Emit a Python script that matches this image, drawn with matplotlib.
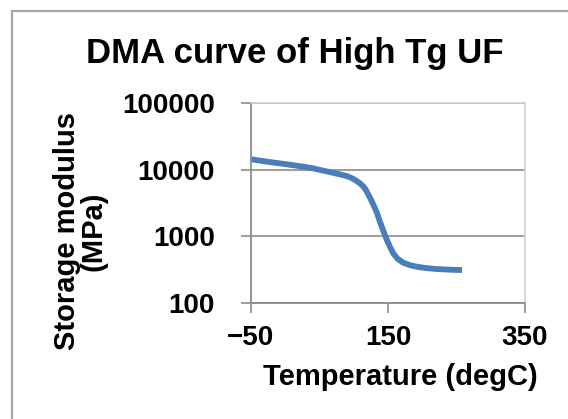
import matplotlib
matplotlib.use("Agg")
import matplotlib.pyplot as plt
from matplotlib.patches import Rectangle

title = "DMA curve of High Tg UF"
xlabel = "Temperature (degC)"
ylabel = "Storage modulus\n(MPa)"

temperature = [-50, -22, 7, 36, 65, 80, 90, 98, 104, 110, 115, 119, 124, 128.5, 133.5, 138.3,
               143, 148, 153, 157.7, 164, 172.3, 182, 192, 205, 221, 240, 258]
modulus = [14300, 13000, 11850, 10700, 9200, 8500, 8000, 7400, 6800, 6150, 5450, 4700, 3750, 3000, 2300, 1650,
           1220, 900, 690, 556, 460, 402, 370, 350, 335, 323, 316, 312]

xticks = [-50, 150, 350]
xticklabels = ["\u221250", "150", "350"]
yticks = [100, 1000, 10000, 100000]
yticklabels = ["100", "1000", "10000", "100000"]

plt.rcParams['font.family'] = ['Liberation Sans', 'DejaVu Sans']
plt.rcParams['font.weight'] = 'bold'

W, H = 568, 419
fig = plt.figure(figsize=(W / 100, H / 100), dpi=100)
fig.patch.set_facecolor('white')

# outer chart frame
fig.add_artist(Rectangle((11.5 / W, -0.1), 1.2, (419 - 11.5) / H + 0.1,
                         transform=fig.transFigure, fill=False,
                         edgecolor='#a6a6a6', linewidth=1.6))

ax = fig.add_axes([251 / W, 116 / H, 274 / W, 200 / H])
ax.plot(temperature, modulus, color='#4a7ebb', linewidth=4.2,
        solid_capstyle='butt', solid_joinstyle='round')
ax.set_yscale('log')
ax.set_xlim(-50, 350)
ax.set_ylim(100, 100000)
ax.set_xticks(xticks)
ax.set_xticklabels(xticklabels)
ax.set_yticks(yticks)
ax.set_yticklabels(yticklabels)
ax.minorticks_off()

ax.yaxis.grid(True, color='#8c8c8c', linewidth=1.2)
ax.set_axisbelow(True)
for s in ['top', 'right']:
    ax.spines[s].set_color('#d0d0d0')
    ax.spines[s].set_linewidth(1.2)
for s in ['left', 'bottom']:
    ax.spines[s].set_color('#8c8c8c')
    ax.spines[s].set_linewidth(1.3)

ax.tick_params(axis='y', direction='out', length=7, width=1.2, color='#8c8c8c',
               labelsize=20, pad=19)
ax.tick_params(axis='x', direction='out', length=7, width=1.2, color='#8c8c8c',
               labelsize=20, pad=9)
for lab in ax.get_xticklabels() + ax.get_yticklabels():
    lab.set_fontweight('bold')

fig.text(295 / W, (H - 53) / H, title, ha='center', va='center',
         fontsize=25, fontweight='bold')
fig.text(400 / W, (H - 377) / H, xlabel, ha='center', va='center',
         fontsize=21, fontweight='bold')
fig.text(80 / W, (H - 231) / H, ylabel, ha='center', va='center',
         rotation=90, multialignment='center', fontsize=21,
         fontweight='bold', linespacing=0.92)

fig.savefig("out.png", dpi=100)
